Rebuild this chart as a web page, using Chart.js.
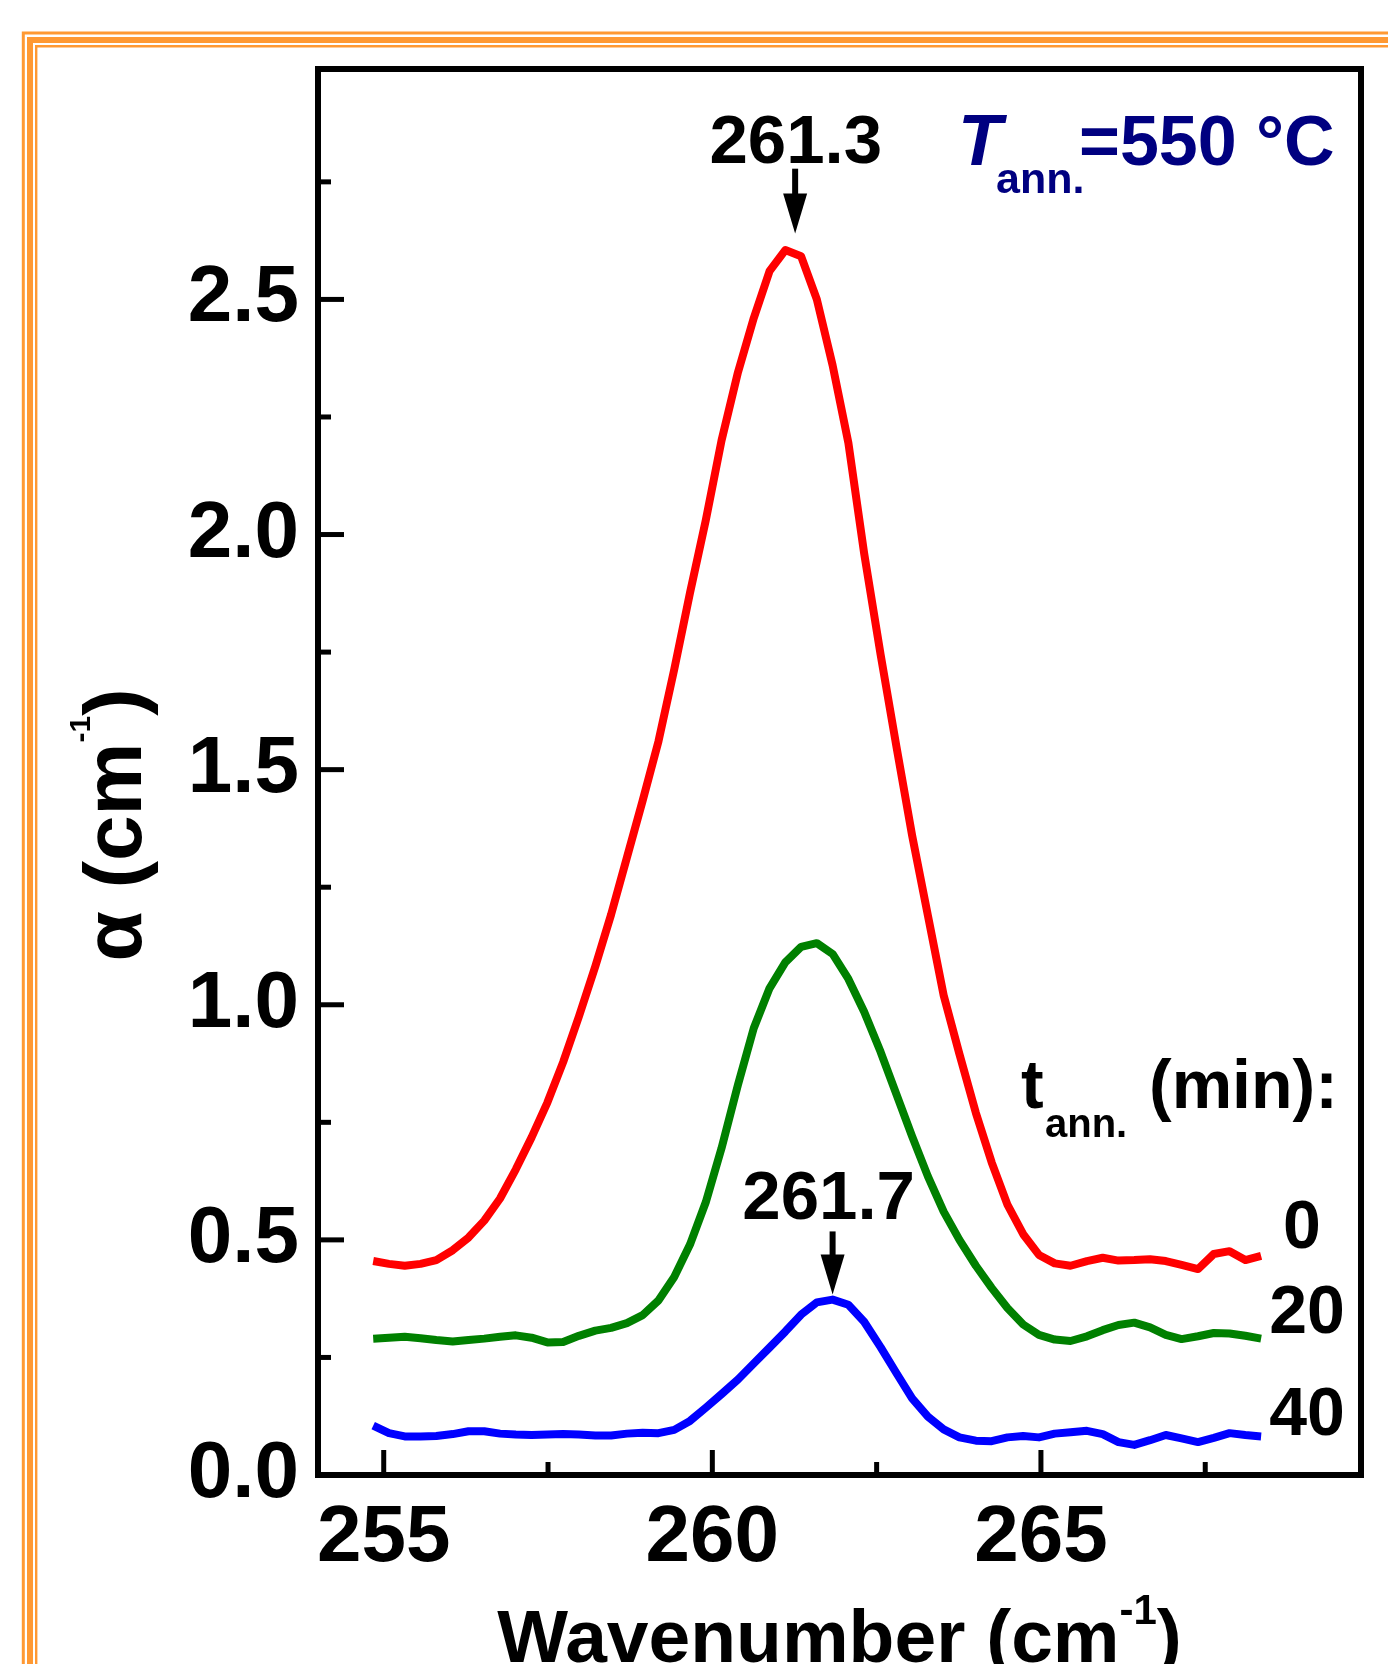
<!DOCTYPE html>
<html><head><meta charset="utf-8">
<script src="https://cdn.jsdelivr.net/npm/chart.js@4.4.1/dist/chart.umd.min.js"></script>
<style>html,body{margin:0;padding:0;background:#fff;}canvas{display:block;}</style>
</head><body>
<canvas id="c" width="1388" height="1664"></canvas>
<script>
// ---------- data ----------
const wavenumber = [254.84,255.08,255.32,255.56,255.80,256.05,256.29,256.53,256.77,257.01,257.25,257.49,257.73,257.97,258.22,258.46,258.70,258.94,259.18,259.42,259.66,259.90,260.14,260.39,260.63,260.87,261.11,261.35,261.59,261.83,262.07,262.31,262.56,262.80,263.04,263.28,263.52,263.76,264.01,264.25,264.49,264.73,264.97,265.21,265.45,265.70,265.94,266.18,266.42,266.66,266.90,267.14,267.39,267.63,267.87,268.11,268.35];
const alpha_0min = [0.455,0.449,0.445,0.449,0.457,0.478,0.505,0.541,0.588,0.650,0.718,0.792,0.878,0.975,1.082,1.192,1.313,1.434,1.560,1.713,1.876,2.030,2.200,2.345,2.460,2.560,2.605,2.592,2.500,2.360,2.195,1.960,1.745,1.550,1.360,1.190,1.020,0.895,0.770,0.665,0.575,0.512,0.468,0.450,0.445,0.455,0.462,0.456,0.457,0.459,0.455,0.447,0.438,0.470,0.476,0.457,0.466];
const alpha_20min = [0.290,0.292,0.294,0.291,0.287,0.284,0.287,0.290,0.294,0.297,0.292,0.282,0.283,0.296,0.307,0.313,0.323,0.340,0.371,0.421,0.490,0.580,0.695,0.830,0.950,1.035,1.090,1.123,1.131,1.108,1.055,0.985,0.900,0.810,0.720,0.635,0.560,0.500,0.445,0.398,0.355,0.320,0.298,0.288,0.285,0.295,0.308,0.319,0.324,0.314,0.298,0.289,0.295,0.302,0.301,0.296,0.290];
const alpha_40min = [0.105,0.089,0.082,0.082,0.083,0.087,0.093,0.093,0.088,0.086,0.085,0.086,0.087,0.086,0.084,0.084,0.088,0.090,0.089,0.096,0.115,0.143,0.172,0.203,0.237,0.271,0.305,0.341,0.367,0.373,0.362,0.326,0.272,0.217,0.163,0.124,0.097,0.080,0.073,0.072,0.080,0.083,0.080,0.088,0.091,0.094,0.087,0.070,0.064,0.074,0.085,0.078,0.070,0.079,0.089,0.085,0.082];
const seriesNames = ['0', '20', '40'];
const xMajorTicks = [255, 260, 265];
const xMinorTicks = [257.5, 262.5, 267.5];
const yMajorTicks = [0, 0.5, 1.0, 1.5, 2.0, 2.5];
const yMinorTicks = [0.25, 0.75, 1.25, 1.75, 2.25, 2.75];
const peakLabels = ['261.3', '261.7'];

// ---------- styling / placement ----------
const FONT = '"Liberation Sans", Arial, sans-serif';
const seriesColors = ['#ff0000', '#008000', '#0000ff'];
const peakMarks = [ // data-space anchors for the peak annotations
  {textX: 261.27, textY: 2.791, arrowX: 261.26, arrowTop: 2.778, arrowTip: 2.64},
  {textX: 261.77, textY: 0.544, arrowX: 261.83, arrowTop: 0.518, arrowTip: 0.384}
];

function rich(ctx, x, y, pieces, align) {
  let total = 0;
  pieces.forEach(p => { ctx.font = p.font; p.w = ctx.measureText(p.t).width; total += p.w; });
  let cx = align === 'center' ? x - total / 2 : x;
  pieces.forEach(p => {
    ctx.font = p.font; ctx.textAlign = 'left'; ctx.textBaseline = 'alphabetic';
    ctx.fillText(p.t, cx + (p.dx || 0), y + (p.dy || 0));
    cx += p.w + (p.gap || 0);
  });
}

const framePlugin = {
  id: 'frame',
  beforeDraw(chart) {
    const ctx = chart.ctx;
    ctx.save();
    ctx.fillStyle = '#fff';
    ctx.fillRect(0, 0, chart.width, chart.height);
    ctx.strokeStyle = '#ff9933';
    [[23.3, 33, 3], [30, 40, 6], [36.2, 46.2, 2.4]].forEach(([x, y, w]) => {
      ctx.lineWidth = w;
      ctx.beginPath();
      ctx.moveTo(x, chart.height + 20);
      ctx.lineTo(x, y);
      ctx.lineTo(chart.width + 20, y);
      ctx.stroke();
    });
    ctx.restore();
  }
};

const axesPlugin = {
  id: 'axesBox',
  afterDraw(chart) {
    const ctx = chart.ctx;
    const {left, right, top, bottom} = chart.chartArea;
    const xs = chart.scales.x, ys = chart.scales.y;
    ctx.save();
    ctx.strokeStyle = '#000';
    ctx.lineWidth = 6;
    ctx.lineJoin = 'miter';
    ctx.strokeRect(left, top, right - left, bottom - top);
    ctx.lineWidth = 5;
    const seg = (a, b, c, d) => { ctx.beginPath(); ctx.moveTo(a, b); ctx.lineTo(c, d); ctx.stroke(); };
    xMajorTicks.forEach(v => { const p = xs.getPixelForValue(v); seg(p, bottom, p, bottom - 25); });
    xMinorTicks.forEach(v => { const p = xs.getPixelForValue(v); seg(p, bottom, p, bottom - 13); });
    yMajorTicks.forEach(v => { const p = ys.getPixelForValue(v); seg(left, p, left + 26, p); });
    yMinorTicks.forEach(v => { const p = ys.getPixelForValue(v); seg(left, p, left + 13, p); });

    // peak annotations with arrows
    ctx.fillStyle = '#000';
    peakMarks.forEach((m, i) => {
      ctx.font = 'bold 69px ' + FONT;
      ctx.textAlign = 'center'; ctx.textBaseline = 'alphabetic';
      ctx.fillText(peakLabels[i], xs.getPixelForValue(m.textX), ys.getPixelForValue(m.textY));
      const ax = xs.getPixelForValue(m.arrowX);
      const y0 = ys.getPixelForValue(m.arrowTop), y1 = ys.getPixelForValue(m.arrowTip);
      ctx.lineWidth = 6;
      seg(ax, y0, ax, y1 - 30);
      ctx.beginPath();
      ctx.moveTo(ax - 12, y1 - 40);
      ctx.lineTo(ax + 12, y1 - 40);
      ctx.lineTo(ax, y1);
      ctx.closePath();
      ctx.fill();
    });

    // T_ann. = 550 °C
    ctx.fillStyle = '#000080';
    ctx.textAlign = 'left'; ctx.textBaseline = 'alphabetic';
    ctx.font = 'italic bold 72px ' + FONT;
    ctx.fillText('T', 958, 165);
    ctx.font = 'bold 43px ' + FONT;
    ctx.fillText('ann.', 996, 193);
    ctx.font = 'bold 70px ' + FONT;
    ctx.fillText('=550 \u00B0C', 1079, 165);

    // t_ann. (min):
    ctx.fillStyle = '#000';
    ctx.font = 'bold 68px ' + FONT;
    ctx.fillText('t', 1021, 1108);
    ctx.font = 'bold 40px ' + FONT;
    ctx.fillText('ann.', 1045, 1137);
    ctx.font = 'bold 68px ' + FONT;
    ctx.fillText('(min):', 1149, 1108);

    // series names
    ctx.textAlign = 'center';
    ctx.fillText(seriesNames[0], 1302, 1248);
    ctx.fillText(seriesNames[1], 1307, 1333);
    ctx.fillText(seriesNames[2], 1307, 1435);

    // axis titles
    ctx.fillStyle = '#000';
    rich(ctx, (left + right) / 2, 1662, [
      {t: 'Wavenumber (cm', font: 'bold 75px ' + FONT},
      {t: '-1', font: 'bold 42px ' + FONT, dy: -38},
      {t: ')', font: 'bold 75px ' + FONT}
    ], 'center');
    ctx.save();
    ctx.translate(141, 825);
    ctx.rotate(-Math.PI / 2);
    rich(ctx, 0, 0, [
      {t: '\u03B1 (cm', font: 'bold 82px ' + FONT},
      {t: '-1', font: 'bold 30px ' + FONT, dy: -51},
      {t: ')', font: 'bold 82px ' + FONT}
    ], 'center');
    ctx.restore();
    ctx.restore();
  }
};

const mk = (arr) => wavenumber.map((x, i) => ({x: x, y: arr[i]}));

new Chart(document.getElementById('c'), {
  type: 'line',
  data: {
    datasets: [alpha_0min, alpha_20min, alpha_40min].map((arr, i) => ({
      label: seriesNames[i] + ' min',
      data: mk(arr),
      borderColor: seriesColors[i],
      backgroundColor: seriesColors[i],
      borderWidth: 8,
      pointRadius: 0,
      tension: 0,
      fill: false,
      borderJoinStyle: 'round',
      borderCapStyle: 'butt'
    }))
  },
  options: {
    responsive: false,
    animation: false,
    devicePixelRatio: 1,
    layout: {padding: {top: 69, right: 27, left: 0, bottom: 0}},
    plugins: {legend: {display: false}, tooltip: {enabled: false}, title: {display: false}},
    scales: {
      x: {
        type: 'linear', min: 254, max: 269.87,
        grid: {display: false, drawTicks: false},
        border: {display: false},
        afterBuildTicks: (s) => { s.ticks = xMajorTicks.map(v => ({value: v})); },
        afterFit: (s) => { s.height = 189; },
        ticks: {
          color: '#000', padding: 16, maxRotation: 0, autoSkip: false,
          font: {family: FONT, size: 80, weight: 'bold'},
          callback: (v) => String(v)
        }
      },
      y: {
        type: 'linear', min: 0, max: 2.99,
        grid: {display: false, drawTicks: false},
        border: {display: false},
        afterBuildTicks: (s) => { s.ticks = yMajorTicks.map(v => ({value: v})); },
        afterFit: (s) => { s.width = 318; },
        ticks: {
          color: '#000', padding: 19, autoSkip: false,
          font: {family: FONT, size: 80, weight: 'bold'},
          callback: (v) => Number(v).toFixed(1)
        }
      }
    }
  },
  plugins: [framePlugin, axesPlugin]
});
</script>
</body></html>
